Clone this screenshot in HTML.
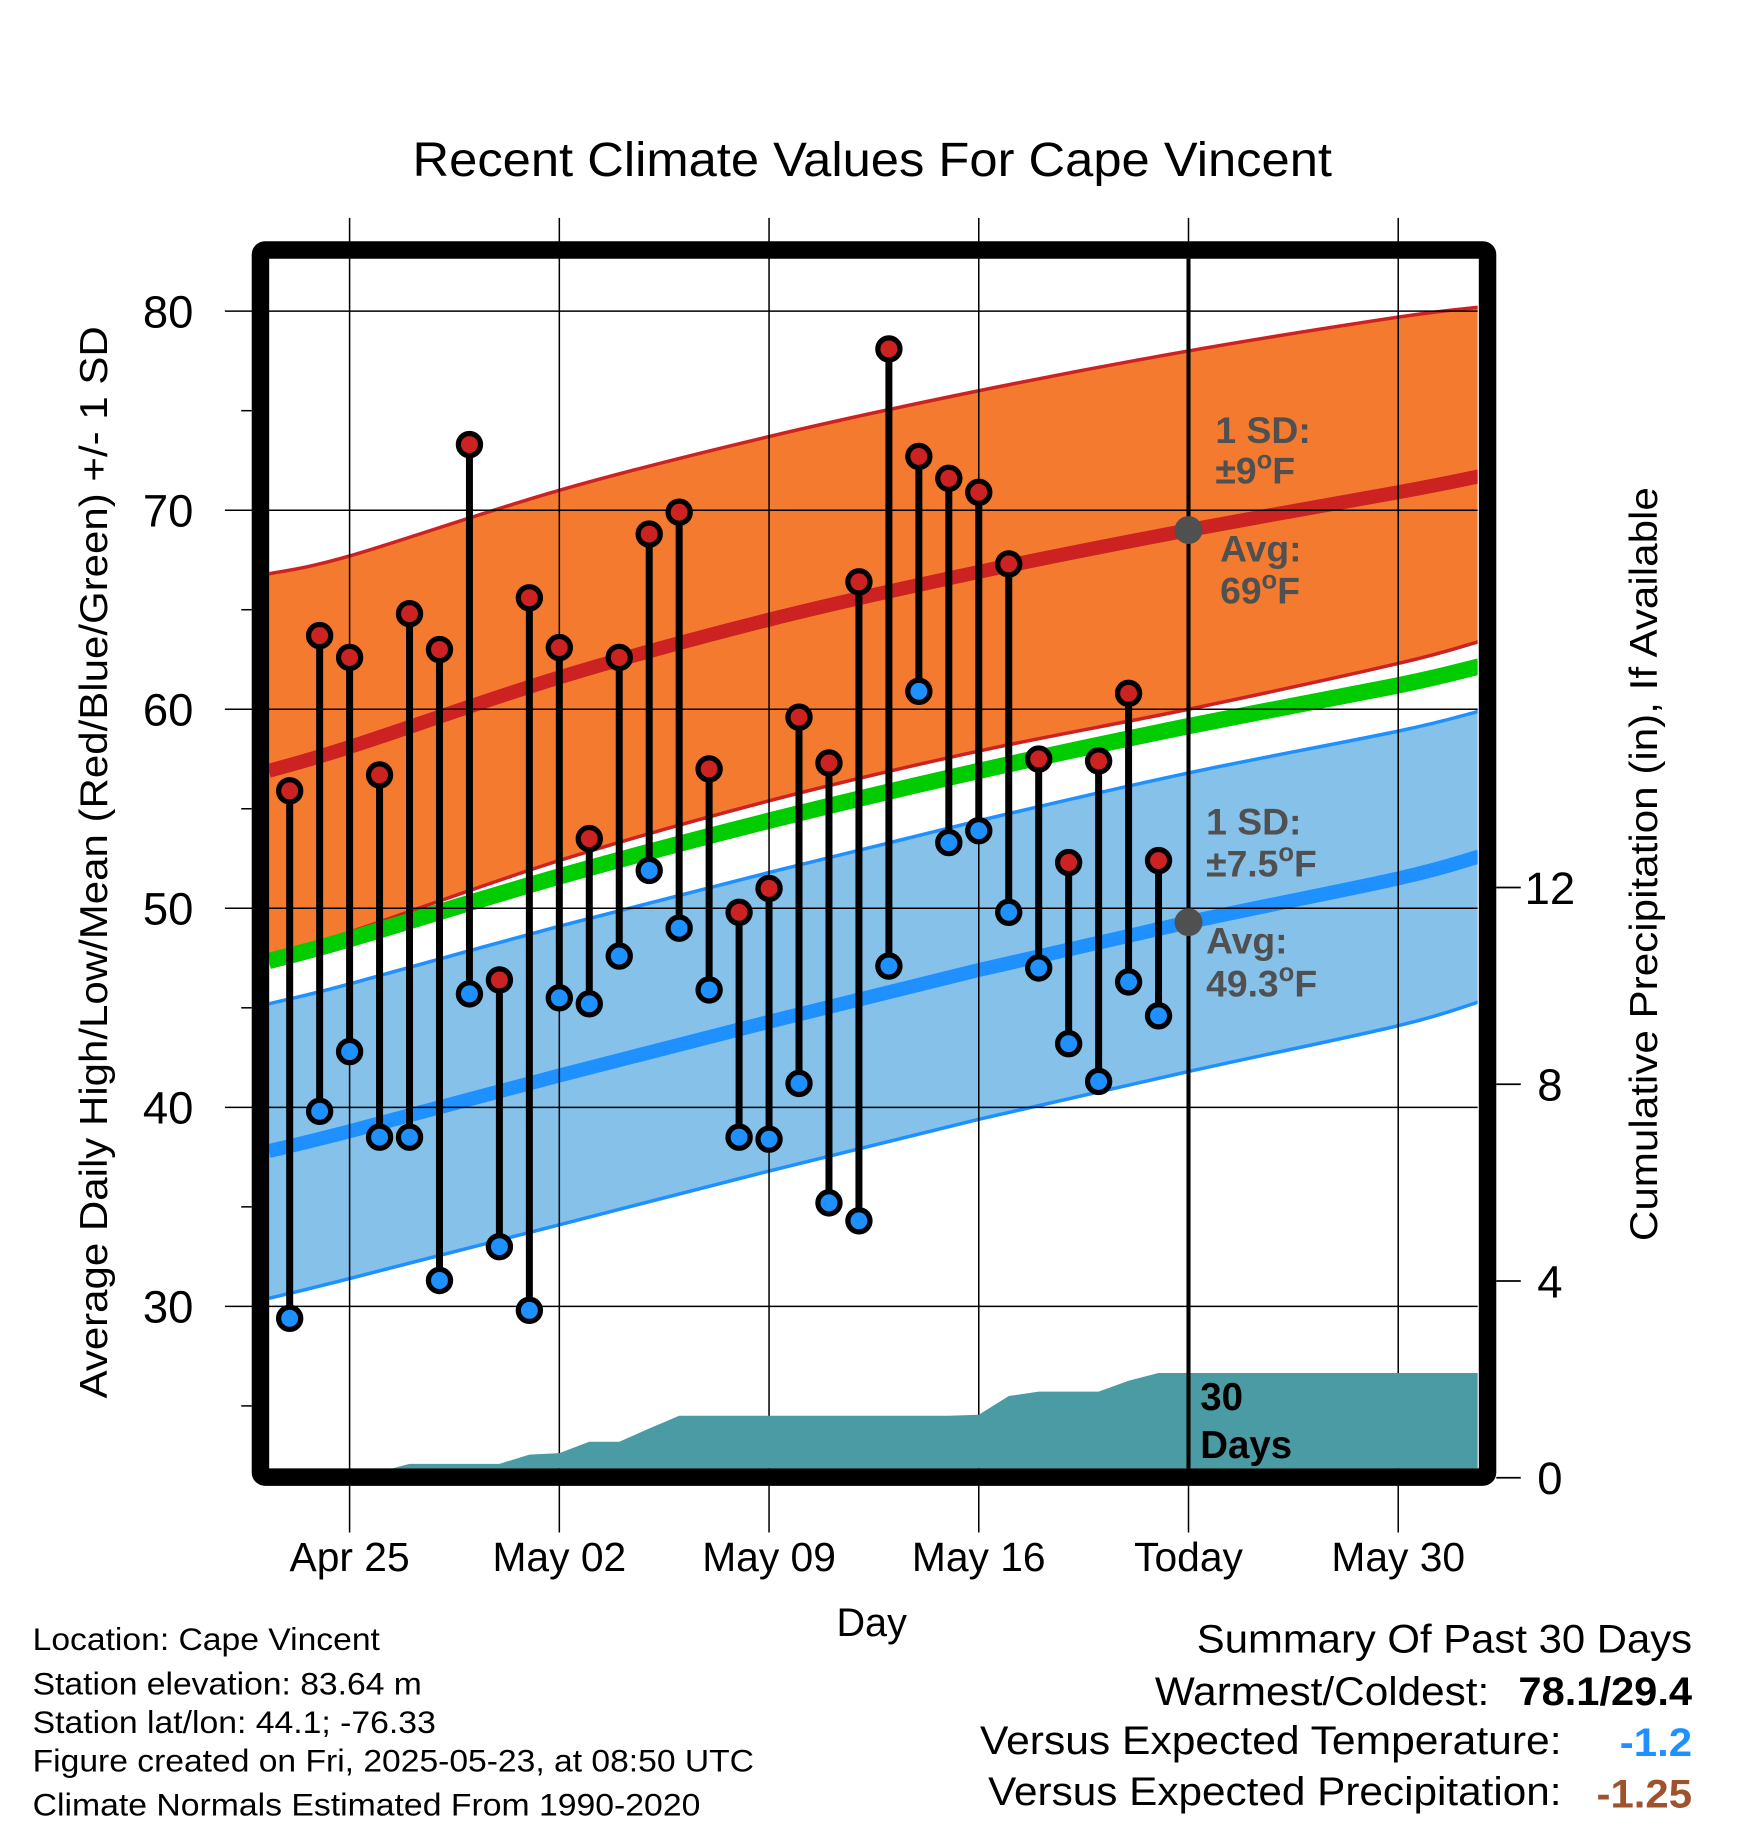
<!DOCTYPE html>
<html><head><meta charset="utf-8"><style>
html,body{margin:0;padding:0;background:#fff}
svg{display:block}
text{font-family:"Liberation Sans",sans-serif}
</style></head><body>
<svg id="chart" width="1748" height="1828" viewBox="0 0 1500 1568.6" preserveAspectRatio="none" xmlns="http://www.w3.org/2000/svg">
<rect width="1500" height="1568.6" fill="#fff"/>
<defs><clipPath id="clip"><rect x="231" y="222" width="1037" height="1038"/></clipPath></defs>
<text x="354" y="151" font-size="41" textLength="789" lengthAdjust="spacingAndGlyphs">Recent Climate Values For Cape Vincent</text>
<g id="bands" clip-path="url(#clip)"></g>
<g id="grid"></g>
<g id="precip" clip-path="url(#clip)"></g>
<g id="marks"></g>
<g id="annot"></g>
<rect x="223.5" y="214.5" width="1053" height="1053" rx="4" fill="none" stroke="#000" stroke-width="15"/>
<g id="axes"></g>
<text transform="translate(92,1200) rotate(-90)" font-size="33" textLength="920" lengthAdjust="spacingAndGlyphs">Average Daily High/Low/Mean (Red/Blue/Green) +/- 1 SD</text>
<text transform="translate(1422,1065) rotate(-90)" font-size="33" textLength="647" lengthAdjust="spacingAndGlyphs">Cumulative Precipitation (in), If Available</text>
<text x="748" y="1404" font-size="34" text-anchor="middle">Day</text>
<g font-size="27">
<text x="28" y="1416" textLength="298" lengthAdjust="spacingAndGlyphs">Location: Cape Vincent</text>
<text x="28" y="1454" textLength="334" lengthAdjust="spacingAndGlyphs">Station elevation: 83.64 m</text>
<text x="28" y="1487" textLength="346" lengthAdjust="spacingAndGlyphs">Station lat/lon: 44.1; -76.33</text>
<text x="28" y="1520" textLength="619" lengthAdjust="spacingAndGlyphs">Figure created on Fri, 2025-05-23, at 08:50 UTC</text>
<text x="28" y="1558" textLength="573" lengthAdjust="spacingAndGlyphs">Climate Normals Estimated From 1990-2020</text>
</g>
<g font-size="34">
<text x="1027" y="1418" textLength="425" lengthAdjust="spacingAndGlyphs">Summary Of Past 30 Days</text>
<text x="991" y="1463" textLength="287" lengthAdjust="spacingAndGlyphs">Warmest/Coldest:</text>
<text x="1303" y="1463" font-weight="bold" textLength="149" lengthAdjust="spacingAndGlyphs">78.1/29.4</text>
<text x="841" y="1505" textLength="499" lengthAdjust="spacingAndGlyphs">Versus Expected Temperature:</text>
<text x="1390" y="1507" font-weight="bold" fill="#1e90ff" textLength="62" lengthAdjust="spacingAndGlyphs">-1.2</text>
<text x="848" y="1549" textLength="492" lengthAdjust="spacingAndGlyphs">Versus Expected Precipitation:</text>
<text x="1370" y="1551" font-weight="bold" fill="#a0522d" textLength="82" lengthAdjust="spacingAndGlyphs">-1.25</text>
</g>
</svg>
<script>
const NS="http://www.w3.org/2000/svg";
// day offsets relative to Apr 25
const dayIdx=[-2,-1,0,1,2,3,4,5,6,7,8,9,10,11,12,13,14,15,16,17,18,19,20,21,22,23,24,25,26,27];
const highs=[55.9,63.7,62.6,56.7,64.8,63.0,73.3,46.4,65.6,63.1,53.5,62.6,68.8,69.9,57.0,49.8,51.0,59.6,57.3,66.4,78.1,72.7,71.6,70.9,67.3,57.5,52.3,57.4,60.8,52.4];
const lows=[29.4,39.8,42.8,38.5,38.5,31.3,45.7,33.0,29.8,45.5,45.2,47.6,51.9,49.0,45.9,38.5,38.4,41.2,35.2,34.3,47.1,60.9,53.3,53.9,49.8,47.0,43.2,41.3,46.3,44.6];
const precip=[0,0,0,0.12,0.28,0.28,0.28,0.28,0.47,0.5,0.73,0.73,1.0,1.26,1.26,1.26,1.26,1.26,1.26,1.26,1.26,1.26,1.26,1.28,1.66,1.75,1.75,1.75,1.97,2.13];
const normDays=[-2.7,0,7,14,21,28,35,37.7];
const normHigh=[56.9,58.1,61.6,64.5,66.9,69.0,70.9,71.7];
const normLow=[37.8,38.8,41.6,44.3,46.9,49.3,51.5,52.6];
const sdHighUp=[9.9,9.6,9.4,9.2,9.1,9.0,8.8,8.5];
const sdHighDn=[9.3,9.3,9.2,9.1,9.0,9.0,8.6,8.3];
const sdLow=[7.4,7.4,7.5,7.5,7.5,7.5,7.4,7.3];
const xTickDays=[0,7,14,21,28,35];
const xTickLabels=["Apr 25","May 02","May 09","May 16","Today","May 30"];
const yTicks=[30,40,50,60,70,80];
const y2Ticks=[0,4,8,12];

const X=d=>300+d*25.71;
const Y=v=>267+(80-v)*17.08;
const Y2=p=>1268-p*42.2;
function mk(tag,attrs,parent){const e=document.createElementNS(NS,tag);for(const k in attrs)e.setAttribute(k,attrs[k]);parent.appendChild(e);return e;}
const bands=document.getElementById('bands'),grid=document.getElementById('grid'),pr=document.getElementById('precip'),marks=document.getElementById('marks'),annot=document.getElementById('annot'),axes=document.getElementById('axes');
function curvePts(vals){return normDays.map((d,i)=>[X(d),Y(vals[i])]);}
function smooth(p,move){
  let s=(move?'M':'L')+p[0][0]+','+p[0][1];
  for(let i=0;i<p.length-1;i++){
    const p0=p[Math.max(0,i-1)],p1=p[i],p2=p[i+1],p3=p[Math.min(p.length-1,i+2)];
    const c1=[p1[0]+(p2[0]-p0[0])/6,p1[1]+(p2[1]-p0[1])/6];
    const c2=[p2[0]-(p3[0]-p1[0])/6,p2[1]-(p3[1]-p1[1])/6];
    s+=' C'+c1+' '+c2+' '+p2;
  }
  return s;
}
function band(arr,up,dn,fill,stroke,name){
  const U=curvePts(arr.map((v,i)=>v+up[i]));
  const D=curvePts(arr.map((v,i)=>v-dn[i]));
  const p=mk('path',{d:smooth(U,true)+' '+smooth(D.slice().reverse(),false)+' Z',fill:fill},bands);
  
  
  const a=mk('path',{d:smooth(U,true),fill:'none',stroke:stroke,'stroke-width':3},bands);
  
  
  const b=mk('path',{d:smooth(D,true),fill:'none',stroke:stroke,'stroke-width':3},bands);
  
  
}
band(normHigh,sdHighUp,sdHighDn,'#f47a30','#cc2222','high-sd-band');
band(normLow,sdLow,sdLow,'#85c1e9','#1e90ff','low-sd-band');
const meanArr=normHigh.map((h,i)=>(h+normLow[i])/2);
const gl=mk('path',{d:smooth(curvePts(meanArr),true),fill:'none',stroke:'#00cc00','stroke-width':14},bands);


const rl=mk('path',{d:smooth(curvePts(normHigh),true),fill:'none',stroke:'#cc2222','stroke-width':12},bands);


const bl=mk('path',{d:smooth(curvePts(normLow),true),fill:'none',stroke:'#1e90ff','stroke-width':12},bands);



// grid
yTicks.forEach(v=>{
  const l=mk('line',{x1:193,x2:1268,y1:Y(v),y2:Y(v),stroke:'#000','stroke-width':1.3},grid);
  
  
  const t=mk('text',{x:166,y:Y(v)+14,'font-size':39,'text-anchor':'end'},axes);
  t.textContent=v;
  
  
});
[25,35,45,55,65,75].forEach(v=>{
  const m=mk('line',{x1:207,x2:216,y1:Y(v),y2:Y(v),stroke:'#000','stroke-width':1.3},axes);
  
  
});
y2Ticks.forEach(v=>{
  const l=mk('line',{x1:1284,x2:1305,y1:Y2(v),y2:Y2(v),stroke:'#000','stroke-width':1.5},axes);
  
  
  const t=mk('text',{x:1330,y:Y2(v)+14,'font-size':39,'text-anchor':'middle'},axes);
  t.textContent=v;
  
  
});
xTickDays.forEach((d,i)=>{
  const l=mk('line',{x1:X(d),x2:X(d),y1:187,y2:1315,stroke:'#000','stroke-width':1.3},grid);
  
  
  const t=mk('text',{x:X(d),y:1348,'font-size':35,'text-anchor':'middle'},axes);
  t.textContent=xTickLabels[i];
  
  
});

// precip area
let pp=[X(-2.7)+','+Y2(0),X(-2.7)+','+Y2(precip[0])];
dayIdx.forEach((d,i)=>pp.push(X(d)+','+Y2(precip[i])));
pp.push(X(37.7)+','+Y2(precip[precip.length-1]),X(37.7)+','+Y2(0));
const pa=mk('polygon',{points:pp.join(' '),fill:'#4a9ba3'},pr);



// stems and markers
dayIdx.forEach((d,i)=>{
  const s=mk('line',{x1:X(d),x2:X(d),y1:Y(highs[i]),y2:Y(lows[i]),stroke:'#000','stroke-width':6},marks);
  
  
});
dayIdx.forEach((d,i)=>{
  const h=mk('circle',{cx:X(d),cy:Y(highs[i]),r:9.5,fill:'#cc2222',stroke:'#000','stroke-width':4.5},marks);
  
  
  const l=mk('circle',{cx:X(d),cy:Y(lows[i]),r:9.5,fill:'#1e90ff',stroke:'#000','stroke-width':4.5},marks);
  
  
});
const tl=mk('line',{x1:X(28),x2:X(28),y1:222,y2:1260,stroke:'#000','stroke-width':3.5},annot);


const d1=mk('circle',{cx:X(28),cy:Y(normHigh[5]),r:12,fill:'#505050'},annot);


const d2=mk('circle',{cx:X(28),cy:Y(normLow[5]),r:12,fill:'#505050'},annot);


function lab(x,y,html,name,fill,size){
  const t=mk('text',{x:x,y:y,'font-size':size||32,'font-weight':'bold',fill:fill||'#505050'},annot);
  t.innerHTML=html;
  
  
}
const deg='<tspan dy="-13" font-size="22">o</tspan><tspan dy="13">F</tspan>';
lab(1043,380,'1 SD:','high-sd-label');
lab(1043,415,'±9'+deg,'high-sd-value');
lab(1047,482,'Avg:','high-avg-label');
lab(1047,518,'69'+deg,'high-avg-value');
lab(1035,716,'1 SD:','low-sd-label');
lab(1035,752,'±7.5'+deg,'low-sd-value');
lab(1035,818,'Avg:','low-avg-label');
lab(1035,855,'49.3'+deg,'low-avg-value');
lab(1030,1210,'30','precip-days-label','#000',33);
lab(1030,1251,'Days','precip-days-label-2','#000',33);
</script>
</body></html>
